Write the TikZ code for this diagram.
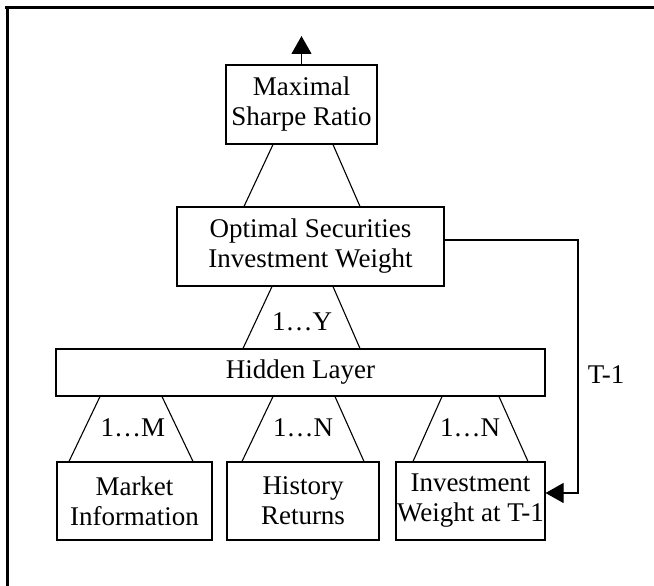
\documentclass[tikz,border=0pt]{standalone}
\usepackage{fontspec}
\setmainfont{Liberation Serif}
\usetikzlibrary{arrows.meta}

\begin{document}
\begin{tikzpicture}[x=1pt,y=-1pt,line width=1.1pt,
        b/.style={draw, align=center, inner sep=0pt,
                  font=\fontsize{27}{30}\selectfont},
        l/.style={font=\fontsize{27}{30}\selectfont},
        tip/.style={-{Triangle[length=18pt,width=20pt]}}]
    \useasboundingbox (0,0) rectangle (654,586);
    % frame
    \draw [line width=3pt] (5,8) -- (654,8);
    \draw [line width=3pt] (7,6.5) -- (7,586);

    \node [b, minimum width=151pt, minimum height=79pt] (msr) at (301.5,104.5)
        {Maximal\\Sharpe Ratio};
    \node [b, minimum width=267pt, minimum height=79pt] (opt) at (310.5,246.5)
        {Optimal Securities\\Investment Weight};
    \node [b, minimum width=489pt, minimum height=47pt] (hid) at (300.5,372.5)
        {Hidden Layer};
    \node [b, minimum width=155pt, minimum height=78pt] (mkt) at (134.5,501)
        {Market\\Information};
    \node [b, minimum width=152pt, minimum height=78pt] (hist) at (303,501)
        {History\\Returns};
    \node [b, minimum width=149pt, minimum height=78pt] (invw) at (470.5,501)
        {Investment\\Weight at T-1};

    \node [l] (ny) at (302,322) {1…Y};
    \node [l] (nm) at (133,428) {1…M};
    \node [l] (nn1) at (303,428) {1…N};
    \node [l] (nn2) at (470,428) {1…N};
    \node [l] (tlab) at (606,375) {T-1};

    \coordinate (out) at (301.5,36);
    \coordinate (back) at (578,493);

    \draw [tip] (msr.north) -- (out);
    \draw ([xshift=-28.5pt]msr.south) -- ([xshift=-66.5pt]opt.north)
          ([xshift=31.5pt]msr.south) -- ([xshift=49.5pt]opt.north);
    \draw ([xshift=-38.5pt]opt.south) -- ([xshift=-57.5pt]hid.north)
          ([xshift=22.5pt]opt.south) -- ([xshift=59.5pt]hid.north);
    \draw ([xshift=-200.5pt]hid.south) -- ([xshift=-65.5pt]mkt.north)
          ([xshift=-138.5pt]hid.south) -- ([xshift=58.5pt]mkt.north);
    \draw ([xshift=-27.5pt]hid.south) -- ([xshift=-61pt]hist.north)
          ([xshift=34.5pt]hid.south) -- ([xshift=61pt]hist.north);
    \draw ([xshift=141.5pt]hid.south) -- ([xshift=-57.5pt]invw.north)
          ([xshift=198.5pt]hid.south) -- ([xshift=57.5pt]invw.north);
    % feedback
    \draw [tip] ([yshift=6.5pt]opt.east) -| (back) -- ([yshift=8pt]invw.east);
\end{tikzpicture}
\end{document}
